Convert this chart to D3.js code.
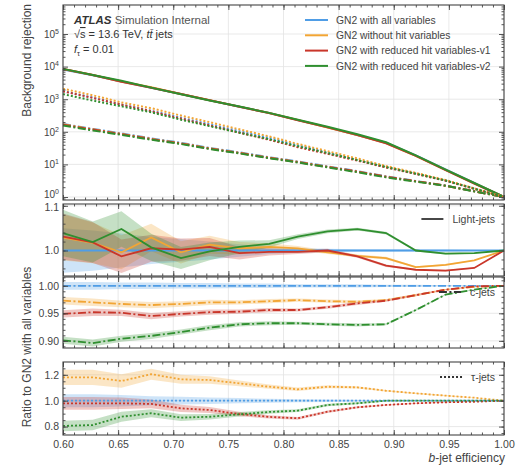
<!DOCTYPE html>
<html>
<head>
<meta charset="utf-8">
<script src="https://cdn.jsdelivr.net/npm/d3@7"></script>
<style>
  body { margin: 0; background: #fff; }
  svg { font-family: "Liberation Sans", Arial, Helvetica, sans-serif; }
</style>
</head>
<body>
<svg width="523" height="466"></svg>
<script>
// b-jet efficiency working points
const effs = [0.600, 0.627, 0.653, 0.680, 0.707, 0.733, 0.760, 0.787, 0.813, 0.840, 0.867, 0.893, 0.920, 0.947, 0.973, 1.000];

const modelNames = ['GN2 with all variables', 'GN2 without hit variables', 'GN2 with reduced hit variables-v1', 'GN2 with reduced hit variables-v2'];
const modelColors = ['#4f9de6', '#f2a534', '#c9362a', '#2f8f2f'];

// background rejection of the reference tagger (GN2 with all variables)
const lightRejAll = [8200, 5400, 3500, 2250, 1450, 920, 590, 375, 228, 137, 80, 46, 19, 7.0, 2.7, 1.0];
const cRejAll = [174, 123, 89, 63, 46, 32, 23.4, 16.6, 12.3, 8.7, 6.2, 4.3, 3.1, 2.24, 1.5, 1.0];
const tauRejAll = [1780, 1120, 690, 440, 270, 170, 105, 65, 39, 23, 13.8, 8.3, 5.2, 3.2, 1.8, 1.0];

// ratios to GN2 with all variables
const lightRatioAll = [1, 1, 1, 1, 1, 1, 1, 1, 1, 1, 1, 1, 1, 1, 1, 1];
const lightRatioNoHit = [1.029, 1.017, 0.996, 1.029, 0.996, 1.013, 1.005, 1.008, 1.005, 0.996, 0.988, 0.983, 0.963, 0.968, 0.978, 1.0];
const lightRatioV1 = [1.031, 1.018, 0.987, 1.005, 1.002, 1.008, 0.994, 0.997, 0.997, 1.0, 0.987, 0.966, 0.957, 0.955, 0.961, 1.0];
const lightRatioV2 = [1.039, 1.019, 1.048, 1.007, 0.983, 0.998, 1.008, 1.015, 1.031, 1.043, 1.048, 1.039, 1.0, 0.993, 0.994, 1.0];

const cRatioAll = [1, 1, 1, 1, 1, 1, 1, 1, 1, 1, 1, 1, 1, 1, 1, 1];
const cRatioNoHit = [0.973, 0.970, 0.967, 0.965, 0.967, 0.970, 0.970, 0.972, 0.974, 0.972, 0.971, 0.974, 0.983, 0.993, 0.998, 1.0];
const cRatioV1 = [0.949, 0.952, 0.951, 0.945, 0.949, 0.952, 0.953, 0.956, 0.956, 0.961, 0.968, 0.973, 0.983, 0.993, 0.999, 1.0];
const cRatioV2 = [0.901, 0.896, 0.904, 0.909, 0.916, 0.924, 0.930, 0.932, 0.932, 0.930, 0.929, 0.930, 0.956, 0.984, 0.993, 1.0];

const tauRatioAll = [1, 1, 1, 1, 1, 1, 1, 1, 1, 1, 1, 1, 1, 1, 1, 1];
const tauRatioNoHit = [1.18, 1.18, 1.152, 1.205, 1.165, 1.16, 1.134, 1.108, 1.088, 1.108, 1.103, 1.077, 1.057, 1.039, 1.023, 1.0];
const tauRatioV1 = [0.98, 0.98, 0.98, 0.975, 0.941, 0.928, 0.897, 0.875, 0.864, 0.915, 0.949, 0.967, 0.98, 0.988, 0.992, 1.0];
const tauRatioV2 = [0.805, 0.812, 0.876, 0.903, 0.869, 0.876, 0.895, 0.913, 0.923, 0.967, 0.98, 1.0, 1.0, 1.0, 1.0, 1.0];

// relative statistical uncertainty of the ratios
const lightErr = [0.05, 0.045, 0.038, 0.03, 0.025, 0.02, 0.014, 0.008, 0.005, 0.004, 0.003, 0.003, 0.002, 0.002, 0.001, 0];
const cErr = [0.007, 0.007, 0.006, 0.006, 0.005, 0.005, 0.004, 0.004, 0.003, 0.003, 0.003, 0.002, 0.002, 0.001, 0.001, 0];
const tauErr = [0.05, 0.05, 0.045, 0.035, 0.03, 0.025, 0.02, 0.015, 0.012, 0.01, 0.008, 0.006, 0.005, 0.004, 0.002, 0];

const xTicks = [0.60, 0.65, 0.70, 0.75, 0.80, 0.85, 0.90, 0.95, 1.00];

const svg = d3.select('svg');
const x0 = 63, x1 = 504;
const x = d3.scaleLinear().domain([0.6, 1.0]).range([x0, x1]);
const ink = '#444';
const dashDot = '8,2.5,2,2.5';
const dotted = '2,2';

const flavours = [
  { key: 'light', rej: lightRejAll, ratios: [lightRatioAll, lightRatioNoHit, lightRatioV1, lightRatioV2], err: lightErr, dash: null,
    top: 204, bot: 276, dom: [0.943, 1.104], majors: [1.0, 1.1], minors: d3.range(0.94, 1.105, 0.02), fmt: d3.format('.1f'), label: 'Light-jets' },
  { key: 'c', rej: cRejAll, ratios: [cRatioAll, cRatioNoHit, cRatioV1, cRatioV2], err: cErr, dash: dashDot,
    top: 277, bot: 348, dom: [0.887, 1.016], majors: [0.90, 0.95, 1.00], minors: d3.range(0.89, 1.016, 0.01), fmt: d3.format('.2f'), label: 'c-jets' },
  { key: 'tau', rej: tauRejAll, ratios: [tauRatioAll, tauRatioNoHit, tauRatioV1, tauRatioV2], err: tauErr, dash: dotted,
    top: 362, bot: 435, dom: [0.735, 1.299], majors: [0.8, 1.0, 1.2], minors: d3.range(0.75, 1.3, 0.05), fmt: d3.format('.1f'), label: '\u03c4-jets' }
];

function styleAxis(sel) {
  sel.select('.domain').remove();
  sel.selectAll('line').attr('stroke', ink).attr('stroke-width', 0.9);
  sel.selectAll('text').attr('fill', ink).attr('font-size', 10.5);
}

function drawGrid(top, bot, y, majors) {
  const g = svg.append('g');
  g.append('g').selectAll('line').data(xTicks).join('line')
    .attr('x1', d => x(d)).attr('x2', d => x(d)).attr('y1', top).attr('y2', bot)
    .attr('stroke', '#e3e3e3').attr('stroke-width', 0.8);
  g.append('g').selectAll('line').data(majors).join('line')
    .attr('x1', x0).attr('x2', x1).attr('y1', d => y(d)).attr('y2', d => y(d))
    .attr('stroke', '#e3e3e3').attr('stroke-width', 0.8);
  return g;
}

function drawTicks(top, bot, y, majors, minors, fmt, showX, isLog) {
  const g = svg.append('g');
  const xMinor = d3.range(0.60, 1.0001, 0.01);
  g.append('g').attr('transform', `translate(0,${bot})`)
    .call(d3.axisBottom(x).tickValues(xTicks).tickSize(-5).tickPadding(6).tickFormat(showX ? d3.format('.2f') : ''))
    .call(styleAxis);
  g.append('g').attr('transform', `translate(0,${bot})`)
    .call(d3.axisBottom(x).tickValues(xMinor).tickSize(-2.5).tickFormat(''))
    .call(styleAxis);
  g.append('g').attr('transform', `translate(0,${top})`)
    .call(d3.axisTop(x).tickValues(xTicks).tickSize(-5).tickFormat(''))
    .call(styleAxis);
  g.append('g').attr('transform', `translate(0,${top})`)
    .call(d3.axisTop(x).tickValues(xMinor).tickSize(-2.5).tickFormat(''))
    .call(styleAxis);
  const left = g.append('g').attr('transform', `translate(${x0},0)`)
    .call(d3.axisLeft(y).tickValues(majors).tickSize(-5).tickPadding(4).tickFormat(fmt))
    .call(styleAxis);
  g.append('g').attr('transform', `translate(${x0},0)`)
    .call(d3.axisLeft(y).tickValues(minors).tickSize(-2.5).tickFormat(''))
    .call(styleAxis);
  g.append('g').attr('transform', `translate(${x1},0)`)
    .call(d3.axisRight(y).tickValues(majors).tickSize(-5).tickFormat(''))
    .call(styleAxis);
  g.append('g').attr('transform', `translate(${x1},0)`)
    .call(d3.axisRight(y).tickValues(minors).tickSize(-2.5).tickFormat(''))
    .call(styleAxis);
  if (isLog) {
    left.selectAll('text').each(function (d) {
      const t = d3.select(this).text('').attr('font-size', 10);
      if (d === 1) t.attr('y', -2.5);
      t.append('tspan').text('10');
      t.append('tspan').attr('dy', '-0.55em').attr('font-size', 7).text(Math.round(Math.log10(d)));
    });
  } else {
    left.selectAll('text').filter(d => d === y.domain()[1] || Math.abs(y(d) - top) < 4).attr('y', 1.5);
  }
  g.append('rect').attr('x', x0).attr('y', top).attr('width', x1 - x0).attr('height', bot - top)
    .attr('fill', 'none').attr('stroke', ink).attr('stroke-width', 1.1);
  return g;
}

// ---------- main panel ----------
const mainTop = 5, mainBot = 200;
const yMain = d3.scaleLog().domain([Math.pow(10, -0.092), Math.pow(10, 5.89)]).range([mainBot, mainTop]);
const decades = [1, 10, 100, 1e3, 1e4, 1e5];
drawGrid(mainTop, mainBot, yMain, decades);

const mainLines = svg.append('g');
flavours.forEach(f => {
  f.ratios.forEach((r, m) => {
    const pts = effs.map((e, i) => [e, f.rej[i] * r[i]]);
    mainLines.append('path')
      .datum(pts)
      .attr('fill', 'none')
      .attr('stroke', modelColors[m])
      .attr('stroke-width', 2)
      .attr('stroke-dasharray', f.dash)
      .attr('d', d3.line().x(d => x(d[0])).y(d => yMain(d[1])));
  });
});

const logMinors = [];
for (let k = -1; k <= 5; k++) for (let j = 2; j <= 9; j++) {
  const v = j * Math.pow(10, k);
  if (v > yMain.domain()[0] && v < yMain.domain()[1]) logMinors.push(v);
}
drawTicks(mainTop, mainBot, yMain, decades, logMinors, null, false, true);

// ATLAS label
const lab = svg.append('g').attr('fill', '#333').attr('font-size', 11.5);
const l1 = lab.append('text').attr('x', 74).attr('y', 24);
l1.append('tspan').attr('font-weight', 'bold').attr('font-style', 'italic').text('ATLAS');
l1.append('tspan').attr('fill', '#555').text(' Simulation Internal');
const l2 = lab.append('text').attr('x', 74).attr('y', 38).attr('font-size', 11);
l2.append('tspan').text('\u221a');
l2.append('tspan').attr('style', 'text-decoration: overline').text('s');
l2.append('tspan').text(' = 13.6 TeV, ');
l2.append('tspan').attr('font-style', 'italic').text('t\u0074\u0304');
l2.append('tspan').text(' jets');
const l3 = lab.append('text').attr('x', 74).attr('y', 53).attr('font-size', 11);
l3.append('tspan').attr('font-style', 'italic').text('f');
l3.append('tspan').attr('font-size', 7.5).attr('dy', 2.5).text('\u03c4');
l3.append('tspan').attr('dy', -2.5).text(' = 0.01');

// model legend
const leg = svg.append('g');
modelNames.forEach((n, i) => {
  const yy = 20 + i * 15.3;
  leg.append('line').attr('x1', 305).attr('x2', 328).attr('y1', yy).attr('y2', yy)
    .attr('stroke', modelColors[i]).attr('stroke-width', 2);
  leg.append('text').attr('x', 336).attr('y', yy).attr('dy', '0.35em')
    .attr('font-size', 10.3).attr('fill', ink).text(n);
});

// ---------- ratio panels ----------
flavours.forEach((f, fi) => {
  const y = d3.scaleLinear().domain(f.dom).range([f.bot, f.top]);
  drawGrid(f.top, f.bot, y, f.majors);
  const g = svg.append('g');
  const area = d3.area().x((d, i) => x(effs[i]))
    .y0((d, i) => y(d * (1 - f.err[i]))).y1((d, i) => y(d * (1 + f.err[i])));
  f.ratios.forEach((r, m) => {
    g.append('path').datum(r).attr('fill', modelColors[m]).attr('fill-opacity', 0.28).attr('d', area);
  });
  f.ratios.forEach((r, m) => {
    g.append('path').datum(r)
      .attr('fill', 'none').attr('stroke', modelColors[m]).attr('stroke-width', 1.8)
      .attr('stroke-dasharray', f.dash)
      .attr('d', d3.line().x((d, i) => x(effs[i])).y(d => y(d)));
  });
  drawTicks(f.top, f.bot, y, f.majors, f.minors, f.fmt, fi === flavours.length - 1, false);

  // flavour legend: handle placed just left of the label
  const ly = f.top + 15;
  const txt = svg.append('text').attr('x', 495).attr('y', ly).attr('dy', '0.35em').attr('text-anchor', 'end')
    .attr('font-size', 10.5).attr('fill', ink).text(f.label);
  const tx = txt.node().getBBox().x;
  svg.append('line').attr('x1', tx - 31).attr('x2', tx - 9).attr('y1', ly).attr('y2', ly)
    .attr('stroke', '#333').attr('stroke-width', 1.8).attr('stroke-dasharray', f.dash);
});

// axis titles
svg.append('text').attr('transform', 'translate(31,4) rotate(-90)').attr('text-anchor', 'end')
  .attr('font-size', 12).attr('fill', ink).text('Background rejection');
svg.append('text').attr('transform', 'translate(31,347) rotate(-90)').attr('text-anchor', 'middle')
  .attr('font-size', 12).attr('fill', ink).text('Ratio to GN2 with all variables');
const xt = svg.append('text').attr('x', 505).attr('y', 462).attr('text-anchor', 'end')
  .attr('font-size', 12).attr('fill', ink);
xt.append('tspan').attr('font-style', 'italic').text('b');
xt.append('tspan').text('-jet efficiency');
</script>
</body>
</html>
